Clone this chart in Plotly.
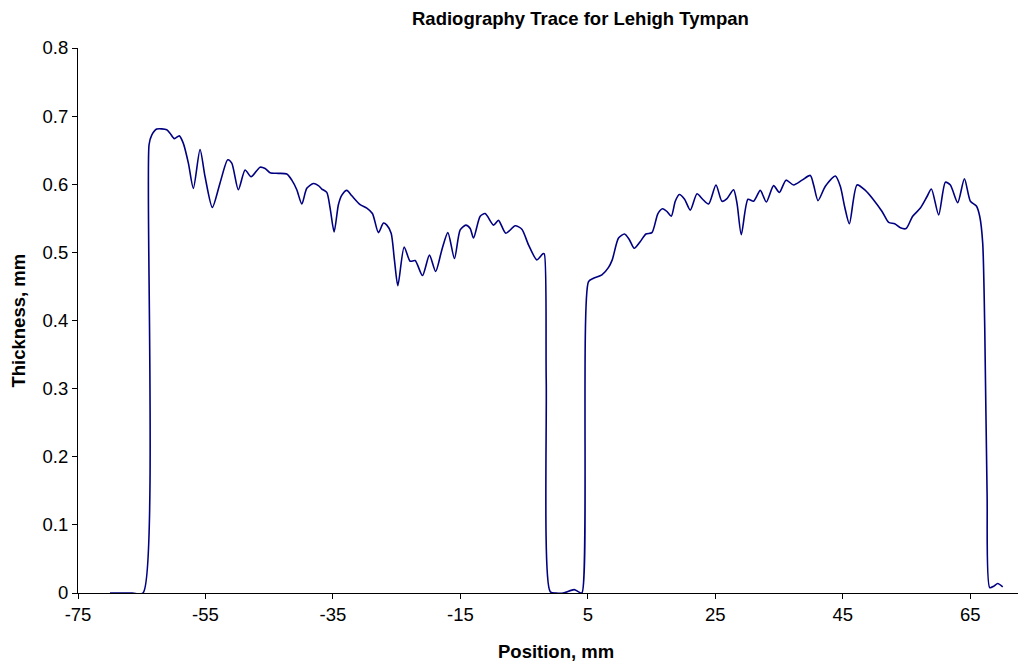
import plotly.graph_objects as go

position_mm = [
    -69.98, -66.5, -64.80, -63.85, -63.43, -62.65, -61.08, -60.56, -59.88, -59.10, -58.47,
    -57.68, -56.90, -55.85, -55.06, -53.92, -52.71, -51.50, -50.87, -49.84, -48.78,
    -47.84, -46.43, -45.64, -44.86, -43.56, -42.24, -41.45, -40.67, -39.88, -39.10,
    -38.06, -37.28, -36.74, -35.96, -35.44, -34.81, -34.14, -33.60, -32.82, -32.03,
    -30.73, -29.68, -28.80, -27.86, -27.07, -26.54, -25.86, -25.35, -24.81, -23.82,
    -22.88, -22.10, -20.95, -19.85, -18.88, -17.90, -16.96, -15.93, -15.03, -14.14,
    -13.46, -12.94, -11.89, -11.11, -9.80, -9.02, -7.86, -6.40, -5.35, -4.31,
    -2.99, -2.05, -1.84, -1.53, -0.90, 0.04, 1.14, 2.86, 3.49, 4.07,
    5.11, 5.89, 7.21, 8.25, 8.83, 9.82, 10.76, 11.50, 12.28, 13.23,
    14.12, 15.06, 16.00, 16.73, 17.42, 18.09, 18.72, 19.35, 20.18, 21.08,
    22.13, 23.01, 23.95, 25.11, 26.05, 26.84, 27.87, 28.41, 29.08, 30.13,
    31.01, 32.06, 33.01, 34.15, 35.05, 36.10, 37.29, 38.61, 39.91, 40.43,
    41.12, 42.27, 43.84, 44.62, 45.30, 46.04, 47.24, 48.55, 49.85, 51.17,
    52.21, 53.15, 54.04, 54.94, 55.97, 57.18, 58.23, 58.91, 60.05, 61.11,
    61.89, 63.04, 64.09, 65.03, 65.97, 66.49, 66.96, 67.28, 67.65, 68.06,
    68.69, 69.32, 70.10,
]

thickness_mm = [
    0.000, 0.000, 0.000, 0.658, 0.672, 0.681, 0.680, 0.675, 0.667, 0.671, 0.660,
    0.631, 0.594, 0.651, 0.611, 0.566, 0.602, 0.636, 0.631, 0.592, 0.621,
    0.611, 0.625, 0.623, 0.617, 0.616, 0.615, 0.606, 0.592, 0.571, 0.594,
    0.601, 0.598, 0.593, 0.588, 0.565, 0.530, 0.570, 0.584, 0.591, 0.583,
    0.570, 0.565, 0.557, 0.529, 0.543, 0.540, 0.528, 0.489, 0.451, 0.508,
    0.487, 0.488, 0.466, 0.496, 0.472, 0.504, 0.529, 0.491, 0.533, 0.540,
    0.535, 0.521, 0.553, 0.557, 0.540, 0.547, 0.528, 0.539, 0.534, 0.511,
    0.489, 0.498, 0.498, 0.313, 0.002, 0.000, 0.000, 0.005, 0.002, 0.000,
    0.457, 0.462, 0.467, 0.478, 0.489, 0.521, 0.527, 0.519, 0.506, 0.516,
    0.527, 0.529, 0.557, 0.564, 0.560, 0.553, 0.575, 0.585, 0.578, 0.562,
    0.586, 0.578, 0.571, 0.599, 0.575, 0.579, 0.592, 0.572, 0.526, 0.578,
    0.575, 0.591, 0.574, 0.598, 0.588, 0.606, 0.599, 0.606, 0.613, 0.599,
    0.576, 0.597, 0.612, 0.597, 0.567, 0.542, 0.599, 0.591, 0.577, 0.560,
    0.544, 0.542, 0.536, 0.535, 0.553, 0.565, 0.582, 0.593, 0.555, 0.603,
    0.599, 0.573, 0.608, 0.575, 0.568, 0.553, 0.514, 0.391, 0.146, 0.008,
    0.010, 0.014, 0.009,
]

x_ticks = [-75, -55, -35, -15, 5, 25, 45, 65]
y_ticks = [0, 0.1, 0.2, 0.3, 0.4, 0.5, 0.6, 0.7, 0.8]
y_tick_text = ["0", "0.1", "0.2", "0.3", "0.4", "0.5", "0.6", "0.7", "0.8"]

FONT = "Liberation Sans, Arial, sans-serif"
FS = 18.5

fig = go.Figure()
fig.add_trace(go.Scatter(
    x=position_mm, y=thickness_mm, mode="lines",
    line=dict(color="#000080", width=1.6, shape="spline", smoothing=0.7),
    showlegend=False, hoverinfo="x+y",
))

fig.update_layout(
    width=1020, height=658,
    margin=dict(l=70, r=10, t=40, b=73),
    paper_bgcolor="white", plot_bgcolor="white",
    font=dict(family=FONT, size=FS, color="black"),
    xaxis=dict(
        range=[-75, 72.5], tickmode="array", tickvals=x_ticks,
        ticktext=[str(v) for v in x_ticks],
        showline=True, linecolor="black", linewidth=1,
        ticks="outside", ticklen=5, tickcolor="black",
        showgrid=False, zeroline=False, automargin=False,
        tickfont=dict(family=FONT, size=FS),
    ),
    yaxis=dict(
        range=[0, 0.8], tickmode="array", tickvals=y_ticks,
        ticktext=y_tick_text,
        showline=True, linecolor="black", linewidth=1,
        ticks="outside", ticklen=5, tickcolor="black",
        showgrid=False, zeroline=False, automargin=False,
        tickfont=dict(family=FONT, size=FS),
    ),
    annotations=[
        dict(text="<b>Radiography Trace for Lehigh Tympan</b>", xref="paper", yref="paper",
             x=0.5, y=1, yshift=30, xshift=32, xanchor="center", yanchor="middle",
             showarrow=False, font=dict(family=FONT, size=FS)),
        dict(text="<b>Position, mm</b>", xref="paper", yref="paper",
             x=0.5, y=0, yshift=-58, xshift=8, xanchor="center", yanchor="middle",
             showarrow=False, font=dict(family=FONT, size=FS)),
        dict(text="<b>Thickness, mm</b>", xref="paper", yref="paper",
             x=0, y=0.5, xshift=-60, xanchor="center", yanchor="middle", showarrow=False,
             textangle=-90, font=dict(family=FONT, size=FS)),
    ],
)

fig.write_html("out.html")
